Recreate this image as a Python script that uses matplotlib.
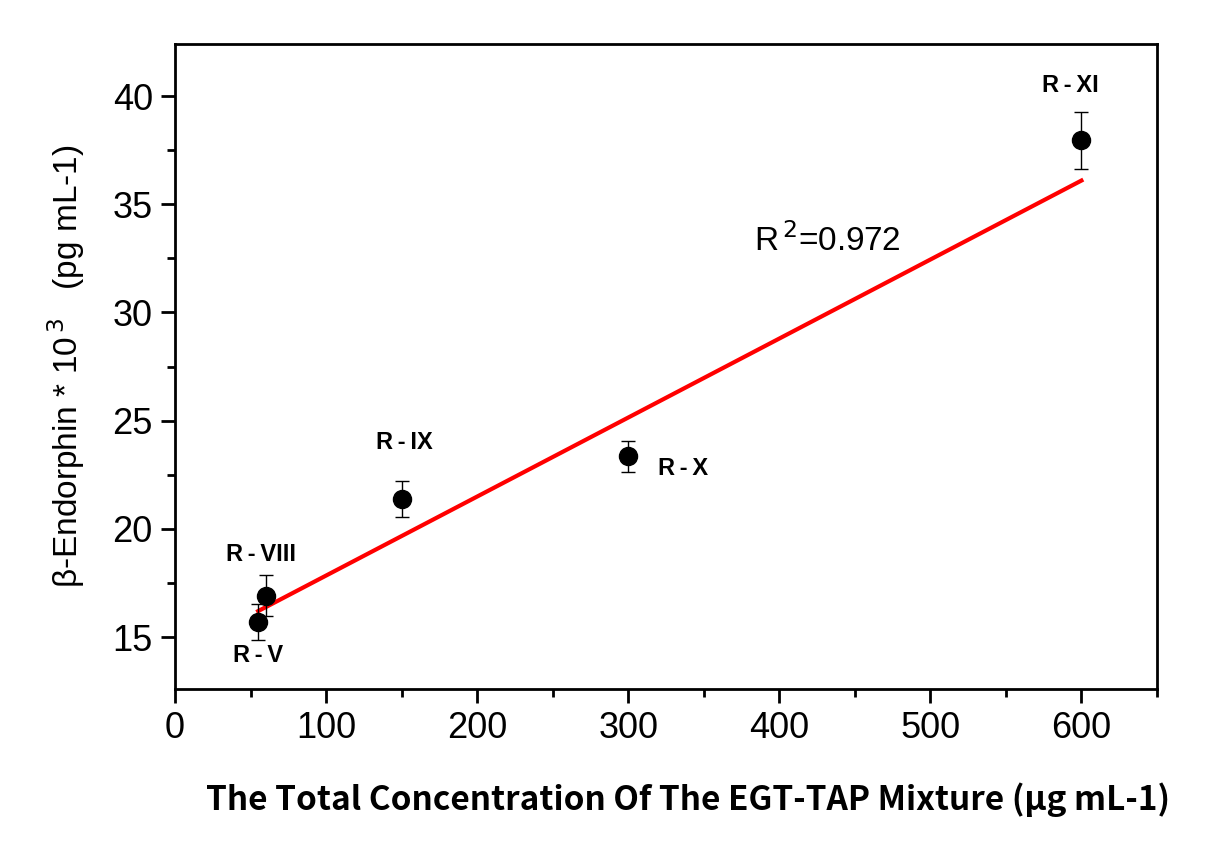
import matplotlib
matplotlib.use("Agg")
import matplotlib.pyplot as plt
from matplotlib.ticker import MultipleLocator
import numpy as np

# Data
labels = ["R-V", "R-VIII", "R-IX", "R-X", "R-XI"]
conc = [55, 60, 150, 300, 600]
endorphin = [15.7, 16.9, 21.4, 23.35, 37.95]
err = [0.82, 0.95, 0.83, 0.72, 1.32]
fit_slope = 0.03651
fit_intercept = 14.19
fit_range = [55, 600]
r2_text = "R$^{\\,2}$=0.972"

label_pos = {
    "R-V": (55, 14.15),
    "R-VIII": (57, 18.8),
    "R-IX": (152, 24.0),
    "R-X": (336, 22.8),
    "R-XI": (593, 40.5),
}
r2_pos = (432, 33.3)

fig = plt.figure(figsize=(12.13, 8.49), dpi=100)
ax = fig.add_axes([0.1443, 0.1885, 0.8095, 0.7595])

fx = np.array(fit_range, dtype=float)
ax.plot(fx, fit_slope * fx + fit_intercept, color="#ff0000", lw=3, zorder=2)

ax.errorbar(conc, endorphin, yerr=err, fmt="o", color="black", ms=13,
            ecolor="black", elinewidth=1, capsize=5, capthick=1, zorder=3)

lab_font = dict(family=["Liberation Sans", "DejaVu Sans"], fontsize=17, fontweight="bold")
for name in labels:
    px, py = label_pos[name]
    ax.text(px, py, name.replace("-", "\u2009-\u2009"), ha="center", va="center", **lab_font)
ax.text(r2_pos[0], r2_pos[1], r2_text, ha="center", va="center",
        family=["Liberation Sans", "DejaVu Sans"], fontsize=24)

ax.set_xlim(0, 650)
ax.set_ylim(12.6, 42.4)
ax.xaxis.set_major_locator(MultipleLocator(100))
ax.xaxis.set_minor_locator(MultipleLocator(50))
ax.yaxis.set_major_locator(MultipleLocator(5))
ax.yaxis.set_minor_locator(MultipleLocator(2.5))
ax.tick_params(which="both", direction="out", top=False, right=False, width=2)
ax.tick_params(which="major", length=10, labelsize=26, pad=6)
ax.tick_params(which="minor", length=6)
for lab in ax.get_xticklabels() + ax.get_yticklabels():
    lab.set_family(["Liberation Sans", "DejaVu Sans"])
for s in ax.spines.values():
    s.set_linewidth(2)

ax.set_xlabel("The Total Concentration Of The EGT-TAP Mixture (μg mL-1)",
              family=["Noto Sans CJK SC", "DejaVu Sans"], fontsize=24,
              fontweight="bold")
ax.xaxis.set_label_coords(0.522, -0.145)
ax.set_ylabel("β-Endorphin * 10$^{\\,3}$   (pg mL-1)",
              family=["Liberation Sans Narrow", "Liberation Sans", "DejaVu Sans"],
              fontsize=24, labelpad=18)

fig.savefig("out.png", dpi=100)
